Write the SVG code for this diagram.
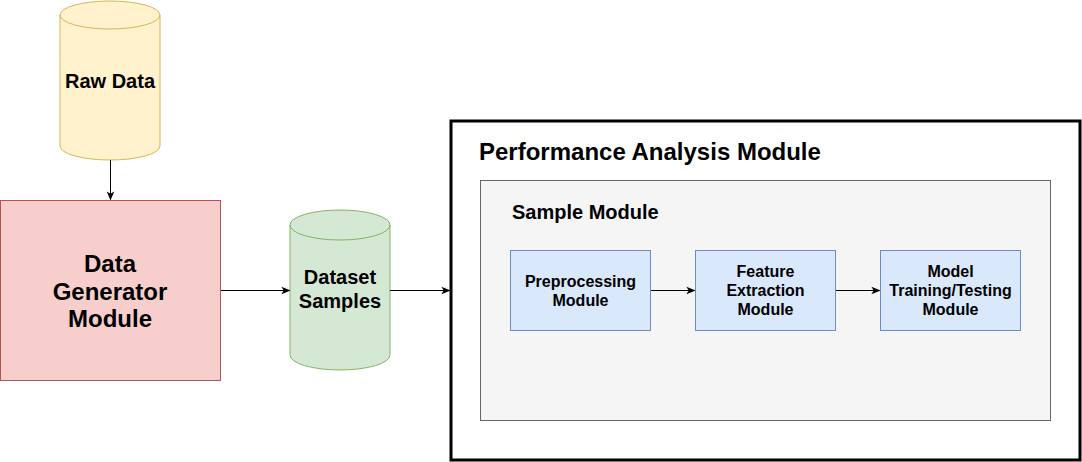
<svg xmlns="http://www.w3.org/2000/svg" width="1082" height="462" viewBox="0 0 1082 462">
<style>
text{font-family:"Liberation Sans",Arial,sans-serif;font-weight:bold;fill:#000;text-anchor:middle}
.blue{fill:#dae8fc;stroke:#6c8ebf;stroke-width:1}
.edge{stroke:#000;stroke-width:1;fill:none;marker-end:url(#arr)}
.t16{font-size:16px}
.t20{font-size:20px}
.t24{font-size:24px}
</style>
<defs>
<marker id="arr" viewBox="0 0 10 10" refX="9" refY="5" markerWidth="9" markerHeight="9" markerUnits="userSpaceOnUse" orient="auto">
<path d="M0,0.8 L10,5 L0,9.2 L2.5,5 Z" fill="#000"/>
</marker>
</defs>
<rect width="1082" height="462" fill="#fff"/>
<g id="raw-data">
<path d="M60,15 A50,14 0 0 1 160,15 L160,146 A50,14 0 0 1 60,146 Z" fill="#fff2cc" stroke="#d6b656"/>
<path d="M60,15 A50,14 0 0 0 160,15" fill="none" stroke="#d6b656"/>
<text class="t20" x="110" y="88">Raw Data</text>
</g>
<g id="data-generator">
<rect x="0.5" y="200.5" width="220" height="180" fill="#f8cecc" stroke="#b85450"/>
<text class="t24" x="110" y="272">Data</text>
<text class="t24" x="110" y="299.5">Generator</text>
<text class="t24" x="110" y="327">Module</text>
</g>
<g id="dataset-samples">
<path d="M290,225 A50,15 0 0 1 390,225 L390,355 A50,15 0 0 1 290,355 Z" fill="#d5e8d4" stroke="#82b366"/>
<path d="M290,225 A50,15 0 0 0 390,225" fill="none" stroke="#82b366"/>
<text class="t20" x="340" y="284">Dataset</text>
<text class="t20" x="340" y="308">Samples</text>
</g>
<g id="performance-analysis">
<rect x="451" y="121" width="629" height="339" fill="#fff" stroke="#000" stroke-width="3"/>
<text class="t24" x="479" y="160" style="text-anchor:start">Performance Analysis Module</text>
</g>
<g id="sample-module">
<rect x="480.5" y="180.5" width="570" height="240" fill="#f5f5f5" stroke="#666666"/>
<text class="t20" x="512" y="219" style="text-anchor:start">Sample Module</text>
</g>
<g id="preprocessing">
<rect class="blue" x="510.5" y="250.5" width="140" height="80"/>
<text class="t16" x="580.5" y="287">Preprocessing</text>
<text class="t16" x="580.5" y="306">Module</text>
</g>
<g id="feature-extraction">
<rect class="blue" x="695.5" y="250.5" width="140" height="80"/>
<text class="t16" x="765.5" y="277">Feature</text>
<text class="t16" x="765.5" y="296">Extraction</text>
<text class="t16" x="765.5" y="315">Module</text>
</g>
<g id="model-training">
<rect class="blue" x="880.5" y="250.5" width="140" height="80"/>
<text class="t16" x="950.5" y="277">Model</text>
<text class="t16" x="950.5" y="296">Training/Testing</text>
<text class="t16" x="950.5" y="315">Module</text>
</g>
<g id="connectors">
<line class="edge" x1="110.5" y1="160" x2="110.5" y2="199.5"/>
<line class="edge" x1="221" y1="290.5" x2="289.5" y2="290.5"/>
<line class="edge" x1="390" y1="290.5" x2="449.5" y2="290.5"/>
<line class="edge" x1="651" y1="290.5" x2="694.5" y2="290.5"/>
<line class="edge" x1="836" y1="290.5" x2="879.5" y2="290.5"/>
</g>
</svg>
